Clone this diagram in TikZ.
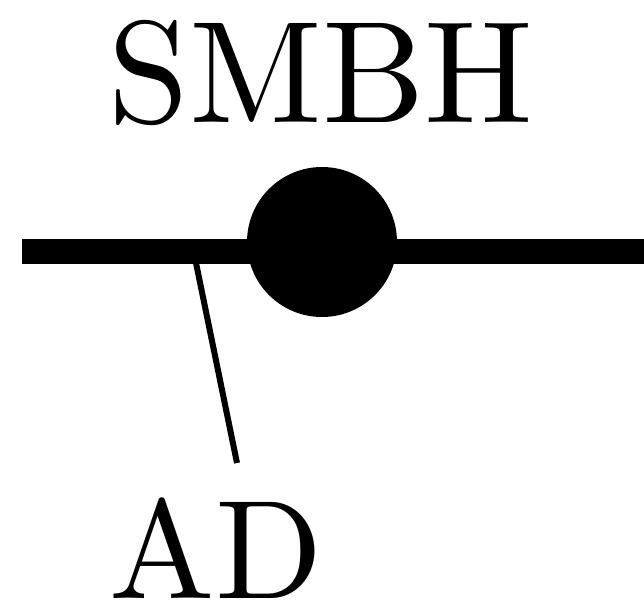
\documentclass[tikz,border=0pt]{standalone}
\begin{document}
\begin{tikzpicture}[x=1pt,y=1pt,
  lbl/.style={inner sep=0pt,anchor=base,font=\normalsize,scale=14.5},
  thick line/.style={line width=25pt},
  thin line/.style={line width=6pt}]
\useasboundingbox (0,0) rectangle (644,-607);
\node[lbl] (smbh) at (321,-122) {SMBH};
\coordinate (L) at (22,-251);
\coordinate (R) at (650,-251);
\coordinate (J) at (195,-258);
\coordinate (E) at (237,-463);
\draw[thick line] (L) -- (R);
\node[circle,fill=black,minimum size=150pt,inner sep=0pt] (bh) at (322,-242) {};
\node[lbl,scale=0.97] (ad) at (216,-598) {AD};
\draw[thin line] (J) -- (E);
\end{tikzpicture}
\end{document}
